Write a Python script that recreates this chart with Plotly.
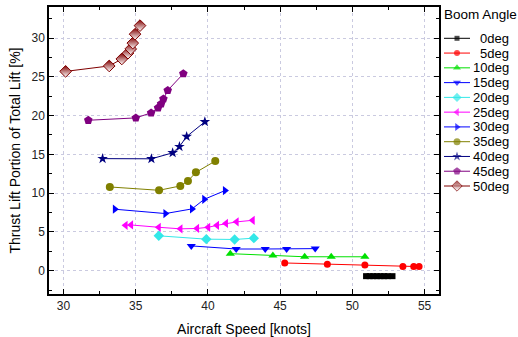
import plotly.graph_objects as go

W, H = 518, 337

labels = ["0deg", "5deg", "10deg", "15deg", "20deg", "25deg",
          "30deg", "35deg", "40deg", "45deg", "50deg"]

x_0 = [50.95, 51.2, 51.45, 51.7, 51.95, 52.2, 52.45, 52.78]
y_0 = [-0.7, -0.7, -0.7, -0.7, -0.7, -0.7, -0.7, -0.7]

x_5 = [45.32, 48.27, 50.87, 53.5, 54.25, 54.62]
y_5 = [1.0, 0.82, 0.73, 0.55, 0.55, 0.55]

x_10 = [41.55, 44.5, 46.7, 48.54, 50.87]
y_10 = [2.2, 1.95, 1.8, 1.8, 1.8]

x_15 = [38.85, 41.96, 43.97, 45.45, 47.43]
y_15 = [3.2, 2.8, 2.8, 2.8, 2.85]

x_20 = [36.6, 39.89, 41.85, 43.18]
y_20 = [4.5, 4.07, 4.03, 4.2]

x_25 = [34.30, 34.68, 36.60, 38.10, 39.25, 40.02, 40.63, 41.25, 41.99, 43.1]
y_25 = [5.85, 5.9, 5.6, 5.4, 5.45, 5.6, 5.85, 6.1, 6.3, 6.5]

x_30 = [33.56, 37.06, 38.90, 39.75, 41.18]
y_30 = [7.93, 7.37, 7.97, 9.21, 10.33]

x_35 = [33.21, 36.62, 38.09, 38.62, 39.17, 40.51]
y_35 = [10.8, 10.37, 10.93, 11.57, 12.68, 14.14]

x_40 = [32.71, 36.09, 37.56, 38.03, 38.53, 39.79]
y_40 = [14.45, 14.43, 15.2, 16.0, 17.3, 19.2]

x_45 = [31.72, 35.01, 36.07, 36.55, 36.76, 36.92, 37.22, 38.30]
y_45 = [19.4, 19.7, 20.35, 21.0, 21.5, 22.15, 23.25, 25.4]

x_50 = [30.15, 33.17, 34.04, 34.47, 34.66, 34.80, 34.96, 35.30]
y_50 = [25.7, 26.4, 27.3, 28.05, 28.6, 29.35, 30.5, 31.6]

xs_all = [x_0, x_5, x_10, x_15, x_20, x_25, x_30, x_35, x_40, x_45, x_50]
ys_all = [y_0, y_5, y_10, y_15, y_20, y_25, y_30, y_35, y_40, y_45, y_50]

colors = ["#000000", "#FF0000", "#00E000", "#0000FF", "#33E8E8", "#FF00FF",
          "#0000FF", "#808000", "#000080", "#800080", "#800000"]
symbols = ["square", "circle", "triangle-up", "triangle-down", "diamond",
           "triangle-left", "triangle-right", "circle", "star", "pentagon", "diamond"]
sizes = [6, 7, 8, 8, 8, 8, 8, 8, 8, 9, 9]

x_ticks = [30, 35, 40, 45, 50, 55]
y_ticks = [0, 5, 10, 15, 20, 25, 30]

fig = go.Figure()


def marker_for(i, size):
    m = dict(symbol=symbols[i], size=size, color=colors[i], line=dict(width=0))
    if i == 10:
        m["gradient"] = dict(type="vertical", color="#FFFFFF")
        m["line"] = dict(width=1, color=colors[i])
    return m


for i, lab in enumerate(labels):
    fig.add_trace(go.Scatter(
        x=xs_all[i], y=ys_all[i], mode="lines+markers", name=lab,
        line=dict(color=colors[i], width=1),
        marker=marker_for(i, sizes[i]),
        showlegend=False, xaxis="x", yaxis="y"))

# custom legend (pixel-based helper axes)
row0, dy = 38.3, 14.77
annotations = []
for i, lab in enumerate(labels):
    ry = row0 + dy * i
    m = marker_for(i, [0, sizes[i] - 1, 0])
    fig.add_trace(go.Scatter(
        x=[0, 0.194, 0.388], y=[ry, ry, ry], mode="lines+markers",
        line=dict(color=colors[i], width=1), marker=m,
        showlegend=False, hoverinfo="skip", xaxis="x2", yaxis="y2"))
    annotations.append(dict(x=1.0, y=ry, xref="x2", yref="y2", text=lab,
                            showarrow=False, xanchor="right", yanchor="middle",
                            font=dict(family="Liberation Sans, Arial", size=13, color="#000000")))
annotations.append(dict(x=442 / W, y=14, xref="paper", yref="y2", text="Boom Angle",
                        showarrow=False, xanchor="left", yanchor="middle",
                        font=dict(family="Liberation Sans, Arial", size=13.5, color="#000000")))

grid_col = "#CACAE0"
axis_common = dict(
    showline=True, linecolor="#000000", linewidth=1.5, mirror="allticks",
    ticks="inside", ticklen=5, tickwidth=1, tickcolor="#000000",
    showgrid=True, gridcolor=grid_col, griddash="dot", gridwidth=1,
    zeroline=False,
    tickfont=dict(family="Liberation Sans, Arial", size=12, color="#222222"),
)

fig.update_layout(
    width=W, height=H,
    margin=dict(l=0, r=0, t=0, b=0),
    paper_bgcolor="#FFFFFF", plot_bgcolor="#FFFFFF",
    showlegend=False,
    xaxis=dict(domain=[49 / W, 439 / W], range=[29, 56], tickvals=x_ticks,
               minor=dict(dtick=2.5, ticks="inside", ticklen=3, tickcolor="#000000", showgrid=False),
               title=dict(text="Aircraft Speed [knots]", standoff=12,
                          font=dict(family="Liberation Sans, Arial", size=14, color="#000000")),
               anchor="y", **axis_common),
    yaxis=dict(domain=[(H - 294) / H, (H - 7) / H], range=[-3, 34], tickvals=y_ticks,
               minor=dict(dtick=2.5, tick0=0, ticks="inside", ticklen=3, tickcolor="#000000", showgrid=False),
               title=dict(text="Thrust Lift Portion of Total Lift [%]", standoff=8,
                          font=dict(family="Liberation Sans, Arial", size=14, color="#000000")),
               anchor="x", **axis_common),
    xaxis2=dict(domain=[444 / W, 511 / W], range=[0, 1], visible=False, anchor="y2", fixedrange=True),
    yaxis2=dict(domain=[0, 1], range=[H, 0], visible=False, anchor="x2", fixedrange=True),
    annotations=annotations,
)

fig.write_html("out.html")
